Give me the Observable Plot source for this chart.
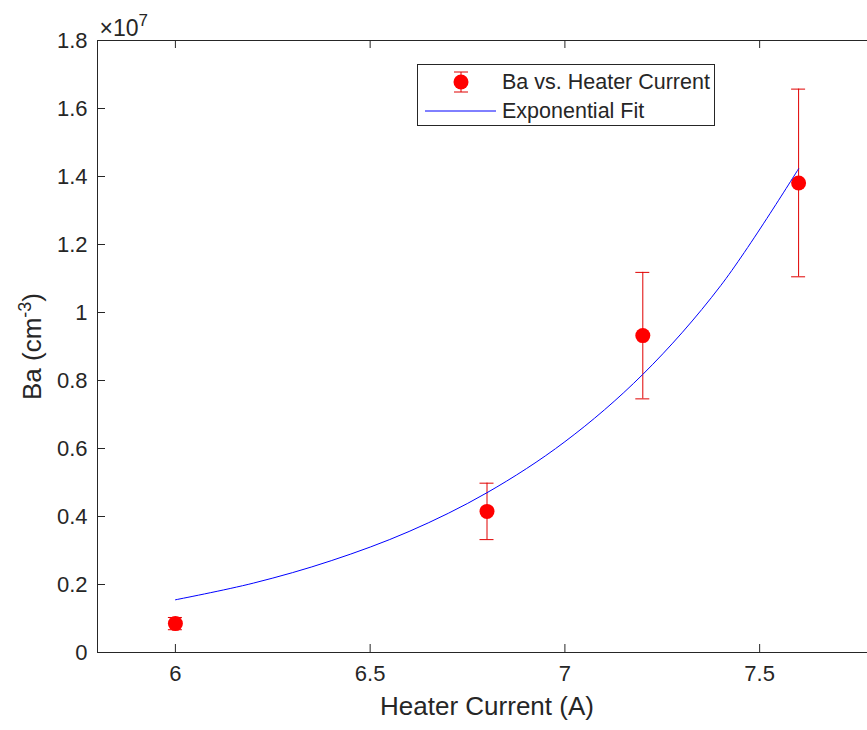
<!DOCTYPE html>
<html>
<head>
<meta charset="utf-8">
<script src="https://cdn.jsdelivr.net/npm/d3@7"></script>
<script src="https://cdn.jsdelivr.net/npm/@observablehq/plot@0.6"></script>
<style>
  html, body { margin: 0; padding: 0; background: #fff; overflow: hidden; }
  #wrap { position: relative; width: 867px; height: 730px; overflow: hidden; }
  .legend {
    position: absolute; left: 417px; top: 64px; width: 298px; height: 62px;
    box-sizing: border-box; border: 1px solid #262626; background: #fff;
    font-family: "Liberation Sans", Arial, Helvetica, sans-serif; font-size: 21.5px; color: #262626;
  }
  .legend svg { position: absolute; left: 0; top: 0; }
  .legend .lab { position: absolute; left: 84px; line-height: 24px; white-space: nowrap; }
</style>
</head>
<body>
<div id="wrap">
  <div id="chart"></div>
  <div class="legend">
    <svg width="84" height="60">
      <line x1="43" x2="43" y1="7" y2="27" stroke="#e00000" stroke-width="1"/>
      <line x1="36" x2="50" y1="7" y2="7" stroke="#e00000" stroke-width="1"/>
      <line x1="36" x2="50" y1="27" y2="27" stroke="#e00000" stroke-width="1"/>
      <circle cx="43" cy="17" r="7.5" fill="#ff0000"/>
      <line x1="7" x2="78" y1="46" y2="46" stroke="#0000ff" stroke-width="1"/>
    </svg>
    <div class="lab" style="top:5px">Ba vs. Heater Current</div>
    <div class="lab" style="top:34px">Exponential Fit</div>
  </div>
</div>
<script>
// ---- data ----
const current     = [6.0, 6.8, 7.2, 7.6];                       // Heater current (A)
const density     = [0.085e7, 0.415e7, 0.932e7, 1.381e7];        // Ba (cm^-3)
const densityErr  = [0.018e7, 0.083e7, 0.186e7, 0.276e7];        // error bar half-length
const fitCurrent  = [6.0, 6.2, 6.4, 6.6, 6.8, 7.0, 7.2, 7.4, 7.6];
const fitDensity  = [0.155e7, 0.204e7, 0.270e7, 0.356e7, 0.470e7, 0.620e7, 0.818e7, 1.079e7, 1.423e7];
const xTicks      = [6, 6.5, 7, 7.5];
const yTicks      = [0, 0.2e7, 0.4e7, 0.6e7, 0.8e7, 1.0e7, 1.2e7, 1.4e7, 1.6e7, 1.8e7];

const points = current.map((x, i) => ({x, y: density[i], lo: density[i] - densityErr[i], hi: density[i] + densityErr[i]}));
const fit = fitCurrent.map((x, i) => ({x, y: fitDensity[i]}));

const W = 867, H = 730, mL = 97, mT = 40, mB = 78, mR = -9;
const pw = W - mL - mR, ph = H - mT - mB, tk = 8;
const axisColor = "#262626";
const font = "Liberation Sans, Arial, Helvetica, sans-serif";

const chart = Plot.plot({
  width: W, height: H,
  marginLeft: mL, marginRight: mR, marginTop: mT, marginBottom: mB,
  style: {fontFamily: font, fontSize: "22px", color: axisColor, background: "#fff", overflow: "hidden"},
  x: {domain: [5.8, 7.8]},
  y: {domain: [0, 1.8e7]},
  marks: [
    Plot.frame({stroke: axisColor, strokeWidth: 1}),
    Plot.ruleX(xTicks, {x: d => d, insetTop: ph - tk, stroke: axisColor}),
    Plot.ruleX(xTicks, {x: d => d, insetBottom: ph - tk, stroke: axisColor}),
    Plot.ruleY(yTicks, {y: d => d, insetRight: pw - tk, stroke: axisColor}),
    Plot.ruleY(yTicks, {y: d => d, insetLeft: pw - tk, stroke: axisColor}),
    Plot.axisX({ticks: xTicks, tickSize: 0, tickPadding: 13, label: null, tickFormat: d => String(d), fontSize: 22, fill: axisColor}),
    Plot.axisY({ticks: yTicks, tickSize: 0, tickPadding: 10, label: null, tickFormat: d => String(+(d / 1e7).toFixed(1)), fontSize: 22, fill: axisColor}),
    // error bars
    Plot.ruleX(points, {x: "x", y1: "lo", y2: "hi", stroke: "#e00000", strokeWidth: 1}),
    Plot.ruleY(points, {y: "hi", x1: "x", x2: "x", insetLeft: -7, insetRight: -7, stroke: "#e00000", strokeWidth: 1}),
    Plot.ruleY(points, {y: "lo", x1: "x", x2: "x", insetLeft: -7, insetRight: -7, stroke: "#e00000", strokeWidth: 1}),
    Plot.dot(points, {x: "x", y: "y", r: 7.5, fill: "#ff0000", stroke: "none"}),
    // exponential fit
    Plot.line(fit, {x: "x", y: "y", stroke: "#0000ff", strokeWidth: 1, curve: "catmull-rom"}),
    // labels
    Plot.text(["Heater Current (A)"], {frameAnchor: "bottom", dy: 62, fontSize: 26, fill: axisColor}),
    Plot.text(["Ba (cm"], {frameAnchor: "left", textAnchor: "middle", dx: -65, rotate: -90, fontSize: 26, fill: axisColor}),
    Plot.text(["×10"], {frameAnchor: "top-left", textAnchor: "start", lineAnchor: "bottom", dx: 2, dy: -5, fontSize: 23, fill: axisColor})
  ]
});

document.getElementById("chart").appendChild(chart);

// superscripts
const svg = d3.select(chart);
svg.selectAll("text").filter(function() { return this.textContent === "Ba (cm"; }).each(function() {
  const t = d3.select(this);
  t.append("tspan").attr("dy", "-10").attr("font-size", "18").text("-3");
  t.append("tspan").attr("dy", "10").text(")");
});
svg.selectAll("text").filter(function() { return this.textContent === "×10"; }).each(function() {
  const t = d3.select(this);
  t.append("tspan").attr("dy", "-10").attr("font-size", "17").text("7");
});
</script>
</body>
</html>
